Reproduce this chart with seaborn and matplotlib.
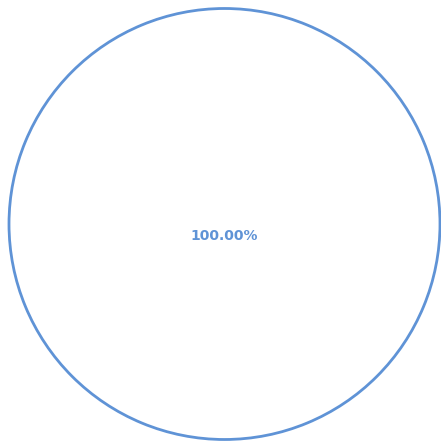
import matplotlib
matplotlib.use("Agg")
import matplotlib.pyplot as plt
import seaborn as sns

sns.set_theme(style="white")
plt.rcParams['font.family'] = ['DejaVu Sans']

categories = ["Total"]
values = [100.0]

color = "#5f93d6"

fig = plt.figure(figsize=(4.41, 4.42), dpi=100)
W, H = 441, 442
cx, cy, r = 224.5, 224, 215.5
ax = fig.add_axes([(cx - r) / W, (H - cy - r) / H, 2 * r / W, 2 * r / H])
ax.pie(values, labels=None, startangle=90, radius=1,
       autopct=lambda p: f"{p:.2f}%", pctdistance=0.055,
       wedgeprops=dict(facecolor="white", edgecolor=color, linewidth=2.0),
       textprops=dict(color=color, fontsize=10, fontweight="bold"))
ax.set_xlim(-1, 1)
ax.set_ylim(-1, 1)
ax.set_aspect("auto")
ax.axis("off")
fig.savefig("out.png", dpi=100)
